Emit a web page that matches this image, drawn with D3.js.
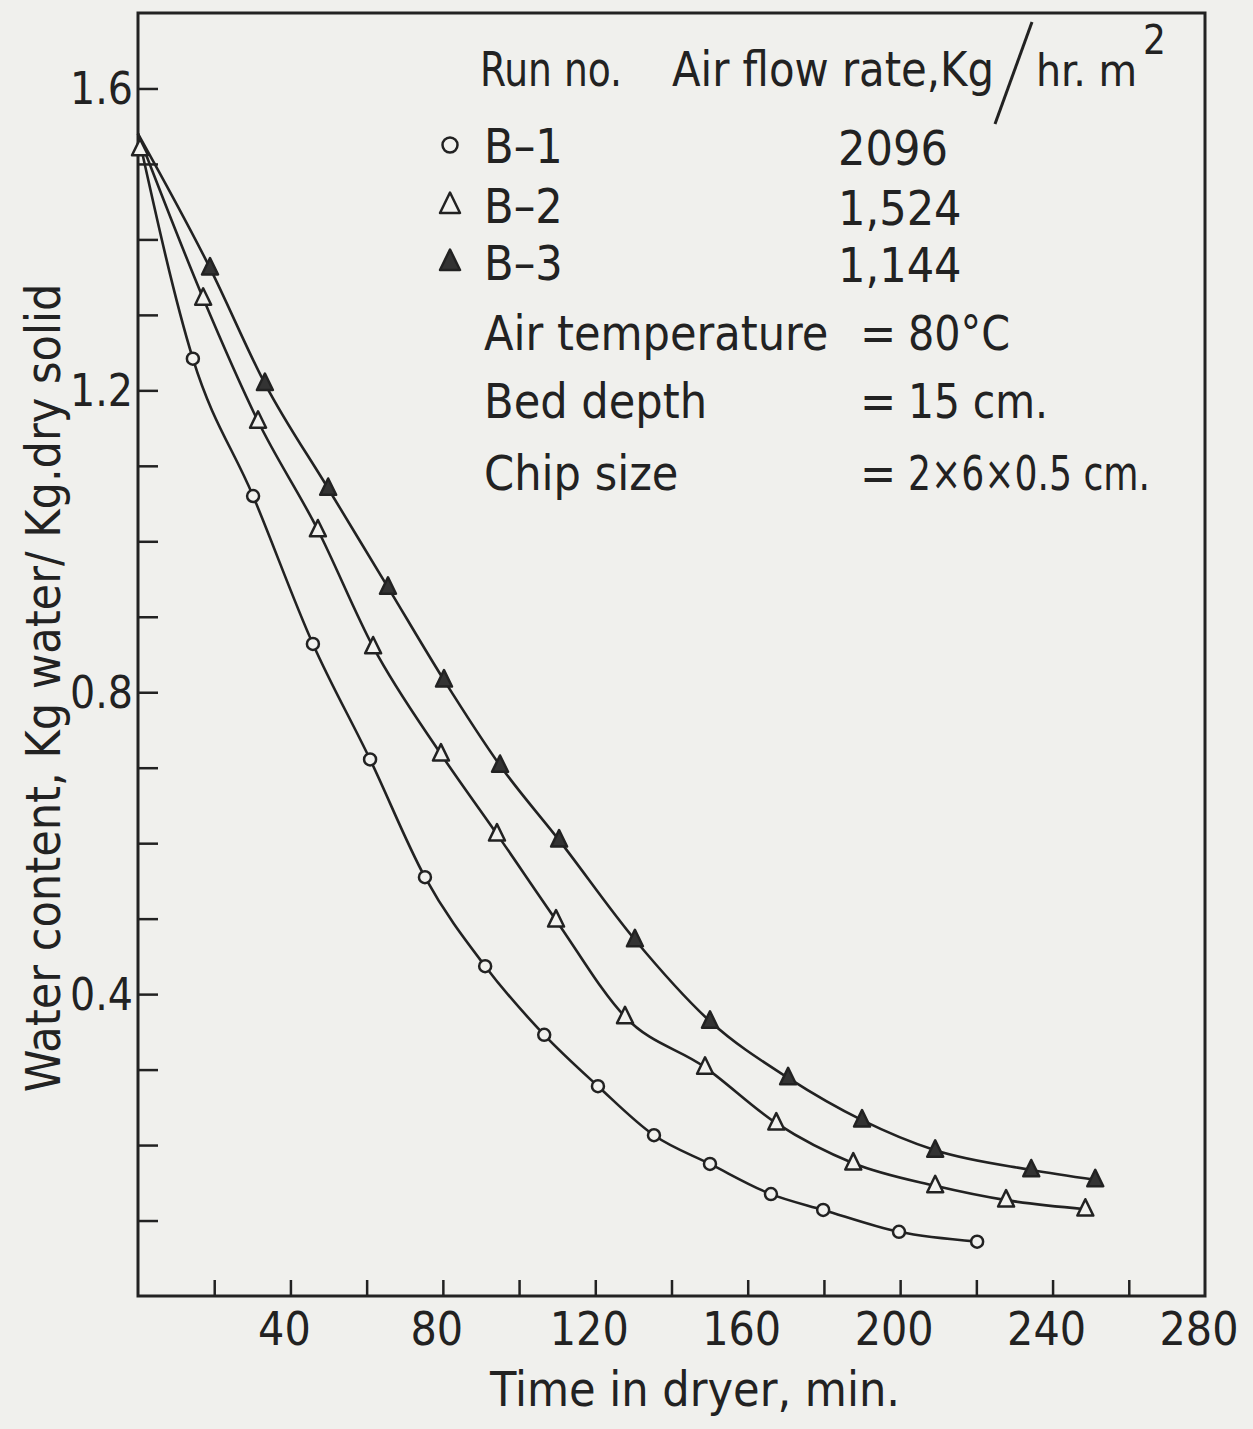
<!DOCTYPE html>
<html>
<head>
<meta charset="utf-8">
<script src="https://cdn.jsdelivr.net/npm/d3@7"></script>
<style>
    body { margin: 0; background: #f0f0ed; }
    #chart-area { width: 1253px; height: 1429px; }
    text { font-family: "Liberation Sans Narrow", "DejaVu Sans Condensed", "Roboto", sans-serif; fill: #222; }
</style>
</head>
<body>
<div id="chart-area"></div>
<script>

// ----- data -----
let runNames = ["B–1", "B–2", "B–3"];
let flowRates = ["2096", "1,524", "1,144"];
let markerTypes = ["circle", "openTriangle", "filledTriangle"];

// common starting moisture at t = 0
let startTime = 0;
let startWater = 1.54;

let b1Time  = [14.4, 30.2, 45.9, 60.9, 75.3, 91.1, 106.6, 120.7, 135.4, 150.1, 166.1, 179.8, 199.7, 220.2];
let b1Water = [1.242, 1.060, 0.864, 0.711, 0.555, 0.437, 0.346, 0.278, 0.213, 0.175, 0.135, 0.114, 0.085, 0.072];

let b2Time  = [17.1, 31.5, 47.2, 61.7, 79.5, 94.2, 109.7, 127.8, 148.8, 167.5, 187.7, 209.2, 227.8, 248.6];
let b2Water = [1.322, 1.159, 1.015, 0.860, 0.718, 0.612, 0.498, 0.370, 0.303, 0.229, 0.176, 0.146, 0.127, 0.115];

let b3Time  = [18.9, 33.3, 49.9, 65.6, 80.3, 95.0, 110.5, 130.4, 150.1, 170.6, 190.0, 209.2, 234.4, 251.2];
let b3Water = [1.362, 1.209, 1.070, 0.939, 0.816, 0.703, 0.604, 0.472, 0.364, 0.289, 0.233, 0.193, 0.167, 0.154];

let xTicks  = [20, 40, 60, 80, 100, 120, 140, 160, 180, 200, 220, 240, 260];
let xLabels = [40, 80, 120, 160, 200, 240, 280];
let yTicks  = [0.1, 0.2, 0.3, 0.4, 0.5, 0.6, 0.7, 0.8, 0.9, 1.0, 1.1, 1.2, 1.3, 1.4, 1.5, 1.6];
let yLabels = [0.4, 0.8, 1.2, 1.6];

/* * * * * * * * * * * * * *
*     class DryingChart    *
* * * * * * * * * * * * * */

class DryingChart {

    constructor(parentElement, series) {
        this.parentElement = parentElement;
        this.series = series;
        this.initVis();
    }

    initVis() {
        let vis = this;

        vis.margin = {top: 13, right: 48, bottom: 133, left: 138};
        vis.width = 1253 - vis.margin.left - vis.margin.right;
        vis.height = 1429 - vis.margin.top - vis.margin.bottom;

        vis.svg = d3.select("#" + vis.parentElement).append("svg")
            .attr("width", 1253)
            .attr("height", 1429)
            .append("g")
            .attr("transform", "translate(" + vis.margin.left + "," + vis.margin.top + ")");

        // scales
        vis.x = d3.scaleLinear().domain([0, 280]).range([0, vis.width]);
        vis.y = d3.scaleLinear().domain([0, 1.7]).range([vis.height, 0]);

        // frame
        vis.svg.append("rect")
            .attr("width", vis.width)
            .attr("height", vis.height)
            .attr("fill", "none")
            .attr("stroke", "#222")
            .attr("stroke-width", 3);

        // inward ticks
        vis.svg.append("g")
            .attr("class", "axis axis--x")
            .attr("transform", "translate(0," + vis.height + ")")
            .call(d3.axisBottom(vis.x).tickValues(xTicks).tickSize(-16).tickFormat(""));

        vis.svg.append("g")
            .attr("class", "axis axis--y")
            .call(d3.axisLeft(vis.y).tickValues(yTicks).tickSize(-20).tickFormat(""));

        vis.svg.selectAll(".axis path").remove();
        vis.svg.selectAll(".axis line").attr("stroke", "#222").attr("stroke-width", 2.5);

        // tick labels
        vis.svg.append("g")
            .selectAll("text")
            .data(xLabels)
            .enter().append("text")
            .attr("x", d => vis.x(d) - 6)
            .attr("y", vis.height + 49)
            .attr("text-anchor", "middle")
            .attr("font-size", 46)
            .text(d => d);

        vis.svg.append("g")
            .selectAll("text")
            .data(yLabels)
            .enter().append("text")
            .attr("x", -5)
            .attr("y", d => vis.y(d) + 16)
            .attr("text-anchor", "end")
            .attr("font-size", 44)
            .text(d => d.toFixed(1));

        // axis titles
        vis.svg.append("text")
            .attr("x", 695 - vis.margin.left)
            .attr("y", vis.height + 110)
            .attr("text-anchor", "middle")
            .attr("font-size", 48)
            .text("Time in dryer, min.");

        vis.svg.append("text")
            .attr("transform", "translate(" + (60 - vis.margin.left) + "," + (688 - vis.margin.top) + ") rotate(-90)")
            .attr("text-anchor", "middle")
            .attr("font-size", 48)
            .text("Water content, Kg water/ Kg.dry solid");

        // curve generator
        vis.line = d3.line()
            .curve(d3.curveMonotoneX)
            .x(d => vis.x(d.time))
            .y(d => vis.y(d.water));

        vis.curveGroup = vis.svg.append("g").attr("class", "curves");
        vis.markerGroup = vis.svg.append("g").attr("class", "markers");

        vis.drawLegend();
        vis.wrangleData();
    }

    drawLegend() {
        let vis = this;
        let g = vis.svg.append("g")
            .attr("transform", "translate(" + (-vis.margin.left) + "," + (-vis.margin.top) + ")");

        g.append("text").attr("x", 480).attr("y", 86).attr("font-size", 48)
            .attr("textLength", 142).attr("lengthAdjust", "spacingAndGlyphs").text("Run no.");
        g.append("text").attr("x", 672).attr("y", 86).attr("font-size", 48)
            .attr("textLength", 322).attr("lengthAdjust", "spacingAndGlyphs").text("Air flow rate,Kg");
        g.append("line")
            .attr("x1", 1032).attr("y1", 22).attr("x2", 995).attr("y2", 124)
            .attr("stroke", "#222").attr("stroke-width", 3);

        // "hr. m²" as one text, superscript as a raised tspan
        let unit = g.append("text").attr("x", 1036).attr("y", 86).attr("font-size", 44);
        unit.append("tspan").text("hr. m");
        unit.append("tspan").attr("dx", 6).attr("dy", -32).attr("font-size", 40).text("2");

        let rowY = [145, 205, 262];
        runNames.forEach(function(name, i) {
            vis.drawMarker(g, markerTypes[i], 450, rowY[i], 1.25);
            g.append("text").attr("x", 484).attr("y", rowY[i] + 18).attr("font-size", 48).text(name);
            g.append("text").attr("x", 838).attr("y", rowY[i] + 20).attr("font-size", 48).text(flowRates[i]);
        });

        let notes = [
            ["Air temperature", "80°C", 350, 102],
            ["Bed depth", "15 cm.", 418, 140],
            ["Chip size", "2×6×0.5 cm.", 490, 242]
        ];
        notes.forEach(function(n) {
            g.append("text").attr("x", 484).attr("y", n[2]).attr("font-size", 48).text(n[0]);
            g.append("text").attr("x", 860).attr("y", n[2]).attr("font-size", 48).text("=");
            g.append("text").attr("x", 908).attr("y", n[2]).attr("font-size", 48)
                .attr("textLength", n[3]).attr("lengthAdjust", "spacingAndGlyphs").text(n[1]);
        });
    }

    drawMarker(sel, type, cx, cy, scale) {
        if (type === "circle") {
            sel.append("circle")
                .attr("cx", cx).attr("cy", cy).attr("r", 6 * scale)
                .attr("fill", "#f2f2ef")
                .attr("stroke", "#222").attr("stroke-width", 2.5);
        } else {
            let s = 8 * scale;
            let pts = [[cx, cy - s * 1.25], [cx + s, cy + s * 0.8], [cx - s, cy + s * 0.8]];
            sel.append("polygon")
                .attr("points", pts.map(p => p.join(",")).join(" "))
                .attr("fill", type === "filledTriangle" ? "#333" : "#f2f2ef")
                .attr("stroke", "#222").attr("stroke-width", 2.5)
                .attr("stroke-linejoin", "round");
        }
    }

    wrangleData() {
        let vis = this;

        vis.displayData = vis.series.map(function(s, i) {
            let pts = [{time: startTime, water: startWater}];
            s.time.forEach(function(t, j) {
                pts.push({time: t, water: s.water[j]});
            });
            return {name: runNames[i], type: markerTypes[i], points: pts};
        });

        vis.updateVis();
    }

    updateVis() {
        let vis = this;

        vis.curveGroup.selectAll("path")
            .data(vis.displayData)
            .enter().append("path")
            .attr("d", d => vis.line(d.points))
            .attr("fill", "none")
            .attr("stroke", "#222")
            .attr("stroke-width", 2.6);

        vis.displayData.forEach(function(s) {
            s.points.slice(1).forEach(function(p) {
                vis.drawMarker(vis.markerGroup, s.type, vis.x(p.time), vis.y(p.water), 1.0);
            });
        });

        // marker at the common start point
        vis.drawMarker(vis.markerGroup, "openTriangle", vis.x(startTime) + 2, vis.y(startWater - 0.02), 1.0);
    }
}

new DryingChart("chart-area", [
    {time: b1Time, water: b1Water},
    {time: b2Time, water: b2Water},
    {time: b3Time, water: b3Water}
]);

</script>
</body>
</html>
